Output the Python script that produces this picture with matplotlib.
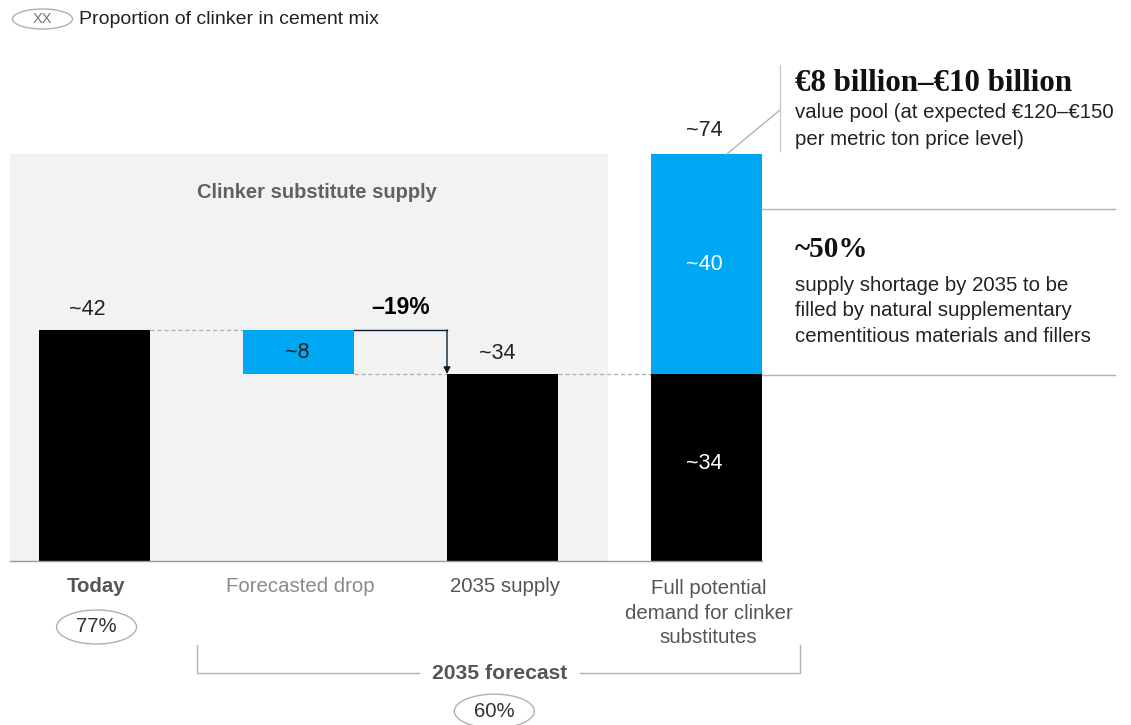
import matplotlib.pyplot as plt
from matplotlib.patches import Ellipse, Rectangle

plt.rcParams["font.family"] = ["Liberation Sans", "DejaVu Sans"]

# values, million metric tons
categories = ["Today", "Forecasted drop", "2035 supply",
              "Full potential\ndemand for clinker\nsubstitutes"]
today = 42
drop = 8
supply_2035 = 34
gap = 40
demand = 74
value_labels = ["~42", "~8", "~34", "~74"]
gap_label = "~40"
clinker_share = ["77%", "60%"]
drop_pct = "–19%"

BLACK = "#000000"
BLUE = "#00a8f3"
BG = "#f2f2f2"
TXT = "#222222"
GREY_TXT = "#616161"
LINE = "#b3b3b3"
SERIF = ["Liberation Serif", "DejaVu Serif"]

# pixel scale of the layout: 204 px per category, 5.5 px per unit
PX_X, PX_Y = 204.0, 5.5
W = 111 / PX_X
FS = 14.7

fig = plt.figure(figsize=(11.31, 7.25), dpi=100)
ax = fig.add_axes([0, 0, 1, 1])
ax.set_xlim(-94.5 / PX_X, (1131 - 94.5) / PX_X)
ax.set_ylim((561 - 725) / PX_Y, 561 / PX_Y)
ax.axis("off")

x = range(len(categories))

# grey background for the supply part
ax.add_patch(Rectangle((-84.5 / PX_X, 0), 598 / PX_X, demand, fc=BG, ec="none", zorder=0))
ax.text(1.09, demand - 7, "Clinker substitute supply", ha="center", va="center",
        fontsize=14.5, fontweight="bold", color=GREY_TXT)

# waterfall bars
ax.bar(x[0], today, width=W, color=BLACK, zorder=2)
ax.bar(x[1], drop, bottom=today - drop, width=W, color=BLUE, zorder=2)
ax.bar(x[2], supply_2035, width=W, color=BLACK, zorder=2)
ax.bar(x[3], supply_2035, width=W, color=BLACK, zorder=2)
ax.bar(x[3], gap, bottom=supply_2035, width=W, color=BLUE, zorder=2)

# baseline
ax.plot([-84.5 / PX_X, x[3] + W / 2], [0, 0], color="#999999", lw=1, zorder=3)

# connector lines
dash = dict(color=LINE, lw=1, ls=(0, (3, 2)), zorder=1)
ax.plot([x[0] + W / 2, x[1] - W / 2], [today, today], **dash)
ax.plot([x[1] + W / 2, x[2] - W / 2], [supply_2035, supply_2035], **dash)
ax.plot([x[2] + W / 2, x[3] - W / 2], [supply_2035, supply_2035], **dash)
right_end = (1115 - 94.5) / PX_X
ax.plot([x[3] + W / 2, right_end], [supply_2035 - 0.2, supply_2035 - 0.2], color=LINE, lw=1)
ax.plot([x[3] + W / 2, right_end], [demand - 10, demand - 10], color=LINE, lw=1)

# drop arrow
ax.plot([x[1] + W / 2, x[2] - W / 2], [today, today], color="#0b1f33", lw=1, zorder=4)
ax.annotate("", xy=(x[2] - W / 2, supply_2035), xytext=(x[2] - W / 2, today),
            arrowprops=dict(arrowstyle="-|>", color="#0b1f33", lw=1,
                            mutation_scale=10, shrinkA=0, shrinkB=0), zorder=4)
ax.text((x[1] + x[2]) / 2, today + 4, drop_pct, ha="center", va="center",
        fontsize=16.5, fontweight="bold", color=BLACK)

# value labels
lab = dict(ha="center", va="center", fontsize=15.5, color=TXT)
ax.text(x[0] - 0.035, today + 3.8, value_labels[0], **lab)
ax.text(x[1] - 0.005, today - drop / 2, value_labels[1], **lab)
ax.text(x[2] - 0.025, supply_2035 + 3.8, value_labels[2], **lab)
ax.text(x[3] - 0.01, demand + 4.2, value_labels[3], **lab)
ax.text(x[3] - 0.01, supply_2035 + gap / 2, gap_label, ha="center", va="center",
        fontsize=15.5, color="white")
ax.text(x[3] - 0.01, supply_2035 / 2 + 0.8, value_labels[2], ha="center", va="center",
        fontsize=15.5, color="white")

# callout for value pool
call_x = (780 - 94.5) / PX_X
ax.plot([x[3] + 0.1, call_x], [demand, demand + 8], color=LINE, lw=1)
ax.plot([call_x, call_x], [demand + 0.5, demand + 16.2], color="#cccccc", lw=1)
tx = (795 - 94.5) / PX_X
ax.text(tx, demand + 12.9, "€8 billion–€10 billion", ha="left", va="center",
        fontsize=22.3, fontweight="bold", family=SERIF, color="#111111")
ax.text(tx, demand + 5.1, "value pool (at expected €120–€150\nper metric ton price level)",
        ha="left", va="center", fontsize=FS, color=TXT, linespacing=1.55)
ax.text(tx, demand - 17.4, "~50%", ha="left", va="center",
        fontsize=21, fontweight="bold", family=SERIF, color="#111111")
ax.text(tx, demand - 28.5,
        "supply shortage by 2035 to be\nfilled by natural supplementary\ncementitious materials and fillers",
        ha="left", va="center", fontsize=FS, color=TXT, linespacing=1.42)

# category labels
cat_styles = [("bold", "#555555"), ("normal", "#8a8a8a"), ("normal", "#555555"), ("normal", "#555555")]
for i, (name, (fw, col)) in enumerate(zip(categories, cat_styles)):
    ax.text(i + 0.01, -4.7, name, ha="center", va="top" if i == 3 else "center",
            fontsize=FS, fontweight=fw, color=col, linespacing=1.36)
ax.texts[-1].set_position((x[3] + 0.01, -3.3))


def ellipse_label(cx, cy, txt, w=80, h=34, size=FS):
    ax.add_patch(Ellipse((cx, cy), w / PX_X, h / PX_Y, fc="white", ec="#b0b0b0",
                         lw=1, zorder=5, clip_on=False))
    ax.text(cx, cy, txt, ha="center", va="center", fontsize=size, color="#333333", zorder=6)


ellipse_label(x[0] + 0.01, -12, clinker_share[0])
ellipse_label(1.96, -27.3, clinker_share[1])
ellipse_label(-52 / PX_X, 561 / PX_Y - 19 / PX_Y, "XX", w=60, h=20, size=10.5)
ax.texts[-1].set_color("#777777")
ax.text(-16 / PX_X, 561 / PX_Y - 19 / PX_Y, "Proportion of clinker in cement mix",
        ha="left", va="center", fontsize=14, color=TXT)

# 2035 forecast bracket
bl, br = 0.5, 3.46
yb_top, yb = -15.3, -20.4
ax.plot([bl, bl, 1.59], [yb_top, yb, yb], color=LINE, lw=1)
ax.plot([2.38, br, br], [yb, yb, yb_top], color=LINE, lw=1)
ax.text(1.985, yb, "2035 forecast", ha="center", va="center", fontsize=15.2,
        fontweight="bold", color="#555555")

fig.savefig("out.png", dpi=100)
